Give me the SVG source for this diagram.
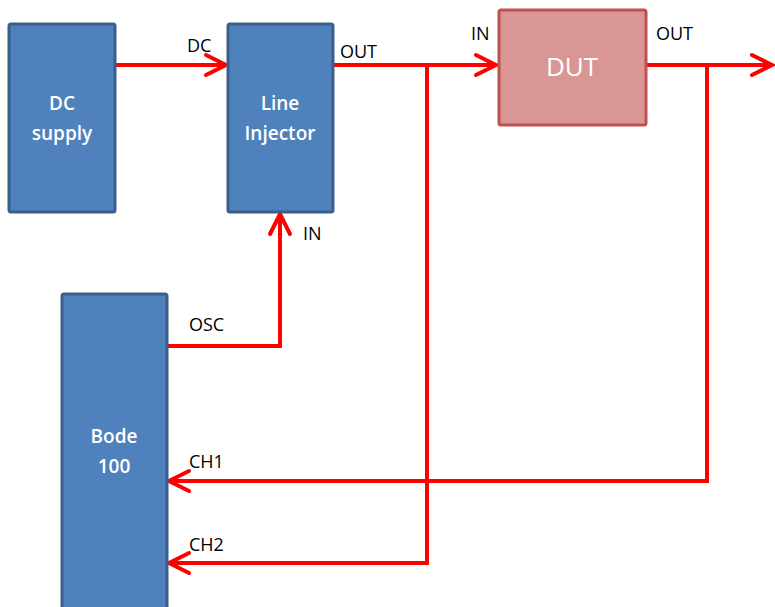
<svg xmlns="http://www.w3.org/2000/svg" width="775" height="607" viewBox="0 0 775 607">
<defs>
<style>
.blue{fill:#4F81BD;stroke:#3A5F8C;stroke-width:3}
.pink{fill:#D99694;stroke:#C0504D;stroke-width:3}
.nt{font-family:"Open Sans","Liberation Sans",sans-serif;fill:#fff;font-size:19px;font-weight:600;text-anchor:middle}
.lb{font-family:"Open Sans","Liberation Sans",sans-serif;fill:#000;font-size:18px}
.w{fill:none;stroke:#FF0000;stroke-width:4}
.ah{fill:none;stroke:#FF0000;stroke-width:4;stroke-linecap:round;stroke-linejoin:miter}
</style>
</defs>
<rect width="775" height="607" fill="#fff"/>
<g id="connectors">
<path class="w" d="M115,65 H226"/>
<path class="ah" d="M206,55 L226,65 L206,75"/>
<path class="w" d="M333,65 H496"/>
<path class="ah" d="M476,55 L496,65 L476,75"/>
<path class="w" d="M646,65 H772"/>
<path class="ah" d="M752,55 L772,65 L752,75"/>
<path class="w" d="M167,346 H280 V214"/>
<path class="ah" d="M270,234 L280,214 L290,234"/>
<path class="w" d="M707,65 V481 H169"/>
<path class="ah" d="M189,471 L169,481 L189,491"/>
<path class="w" d="M427,65 V563 H169"/>
<path class="ah" d="M189,553 L169,563 L189,573"/>
</g>
<g id="dc-supply">
<rect class="blue" x="9" y="24" width="106" height="188" rx="2"/>
<text class="nt" x="62" y="110">DC</text>
<text class="nt" x="62" y="140">supply</text>
</g>
<g id="line-injector">
<rect class="blue" x="228" y="24" width="105" height="188" rx="2"/>
<text class="nt" x="280" y="110">Line</text>
<text class="nt" x="280" y="140">Injector</text>
</g>
<g id="dut">
<rect class="pink" x="499" y="10" width="147" height="115" rx="2"/>
<text class="nt" x="572" y="76" style="font-size:26px;font-weight:400">DUT</text>
</g>
<g id="bode">
<rect class="blue" x="62" y="294" width="105" height="320" rx="2"/>
<text class="nt" x="114" y="443">Bode</text>
<text class="nt" x="114" y="473">100</text>
</g>
<g id="labels">
<text class="lb" x="187" y="52">DC</text>
<text class="lb" x="340" y="58">OUT</text>
<text class="lb" x="471" y="40">IN</text>
<text class="lb" x="656" y="40">OUT</text>
<text class="lb" x="303" y="240">IN</text>
<text class="lb" x="189" y="331">OSC</text>
<text class="lb" x="189" y="468">CH1</text>
<text class="lb" x="189" y="551">CH2</text>
</g>
</svg>
